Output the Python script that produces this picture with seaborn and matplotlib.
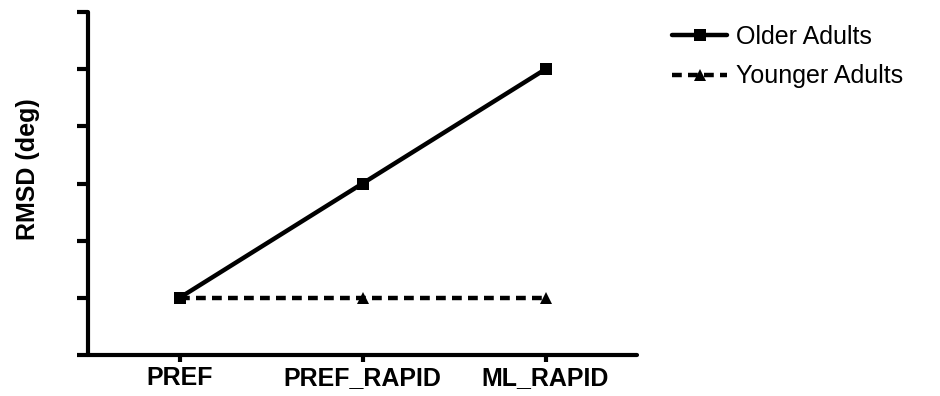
import matplotlib
matplotlib.use("Agg")
import matplotlib.pyplot as plt
import seaborn as sns
import pandas as pd

conditions = ["PREF", "PREF_RAPID", "ML_RAPID"]
older_adults = [1, 3, 5]
younger_adults = [1, 1, 1]
groups = ["Older Adults", "Younger Adults"]

df = pd.DataFrame({
    "condition": conditions * 2,
    "pos": [0, 1, 2] * 2,
    "rmsd": older_adults + younger_adults,
    "group": [groups[0]] * 3 + [groups[1]] * 3,
})

sns.set_style("white")
plt.rcParams["font.family"] = ["Liberation Sans", "DejaVu Sans"]
plt.rcParams["text.color"] = "black"
plt.rcParams["axes.labelcolor"] = "black"
plt.rcParams["xtick.color"] = "black"
plt.rcParams["ytick.color"] = "black"

fig = plt.figure(figsize=(9.4, 3.96), dpi=100)
ax = fig.add_axes([88 / 940, 41 / 396, (637 - 88) / 940, (355 - 12) / 396])

sns.lineplot(
    data=df, x="pos", y="rmsd", hue="group", style="group",
    palette={groups[0]: "black", groups[1]: "black"},
    markers={groups[0]: "s", groups[1]: "^"},
    dashes={groups[0]: "", groups[1]: (2.2, 1.4)},
    linewidth=3.2, markersize=9, markeredgewidth=0,
    ax=ax, legend=True,
)

ax.set_xlim(-0.5, 2.5)
ax.set_ylim(0, 6)
ax.set_xticks([0, 1, 2])
ax.set_xticklabels(conditions, fontsize=18, fontweight="bold", color="black")
ax.set_yticks(range(0, 7))
ax.set_yticklabels([])
ax.set_xlabel("")
ax.set_ylabel("RMSD (deg)", fontsize=18, fontweight="bold", color="black")
ax.yaxis.set_label_coords(-0.087, 0.542)

for side in ["top", "right"]:
    ax.spines[side].set_visible(False)
for side in ["left", "bottom"]:
    ax.spines[side].set_linewidth(3)
    ax.spines[side].set_color("black")
    ax.spines[side].set_capstyle("round")

ax.tick_params(axis="y", direction="out", length=8, width=3, color="black", left=True)
ax.tick_params(axis="x", direction="out", length=5, width=3, color="black", bottom=True, pad=3)

leg = ax.legend(
    loc="upper left", bbox_to_anchor=(672 / 940, 371 / 396),
    bbox_transform=fig.transFigure, frameon=False, fontsize=18,
    handlelength=2.2, handletextpad=0.35, labelspacing=0.62,
    borderaxespad=0, borderpad=0, labelcolor="black",
)

fig.savefig("out.png", dpi=100)
